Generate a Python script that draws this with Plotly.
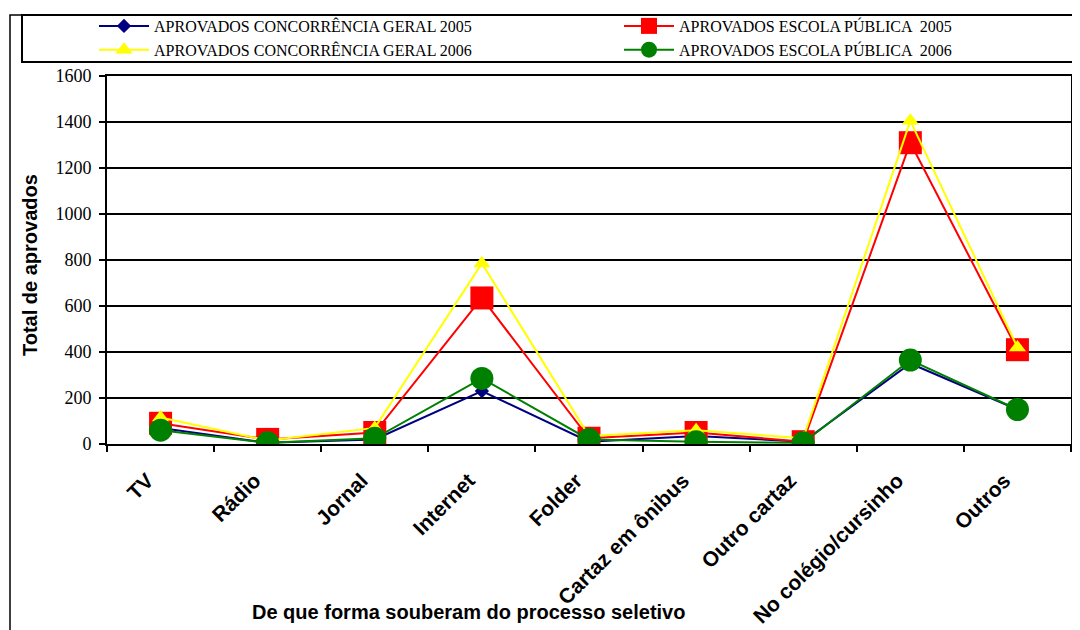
"""
Aprovados por forma de divulgação do processo seletivo (2005 x 2006)
"""

import plotly.graph_objects as go

categorias = ['TV', 'Rádio', 'Jornal', 'Internet', 'Folder', 'Cartaz em ônibus',
              'Outro cartaz', 'No colégio/cursinho', 'Outros']

geral_2005 = [70, 5, 20, 230, 10, 35, 10, 350, 150]
publica_2005 = [90, 20, 50, 635, 25, 50, 10, 1310, 410]
geral_2006 = [115, 15, 70, 785, 35, 60, 25, 1405, 420]
publica_2006 = [60, 5, 25, 285, 20, 10, 5, 365, 150]

y_ticks = [0, 200, 400, 600, 800, 1000, 1200, 1400, 1600]

# the page body has an 8px margin, so the figure is 8px smaller than the window
OFF = 8
W, H = 1080 - OFF, 630 - OFF
# plot area in window pixels: x 107..1071, y 76..444
L, T = 107 - OFF, 76 - OFF
R = W - (1071 - OFF)
B = H - (444 - OFF)
pw, ph = W - L - R, H - T - B


def px_x(x):
    # window pixel -> paper x
    return (x - OFF - L) / pw


def px_y(y):
    # window pixel -> paper y
    return (H - B - (y - OFF)) / ph


series = [
    ('APROVADOS CONCORRÊNCIA GERAL 2005', geral_2005, '#000080', 'diamond', 11),
    ('APROVADOS ESCOLA PÚBLICA  2005', publica_2005, '#ff0000', 'square', 23),
    ('APROVADOS CONCORRÊNCIA GERAL 2006', geral_2006, '#ffff00', 'triangle-up', 15),
    ('APROVADOS ESCOLA PÚBLICA  2006', publica_2006, '#008000', 'circle', 23),
]

fig = go.Figure()

for name, vals, color, symbol, size in series:
    fig.add_trace(go.Scatter(
        x=categorias,
        y=vals,
        name=name,
        mode='lines+markers',
        line=dict(color=color, width=2),
        marker=dict(symbol=symbol, size=size, color=color, line=dict(width=0)),
    ))

# outer chart frame and legend box
fig.add_shape(type='rect', xref='paper', yref='paper',
              x0=px_x(10), x1=px_x(1095), y0=px_y(645), y1=px_y(15),
              line=dict(color='black', width=1.5), layer='below')
fig.add_shape(type='rect', xref='paper', yref='paper',
              x0=px_x(22), x1=px_x(1095), y0=px_y(62), y1=px_y(15),
              line=dict(color='black', width=2), fillcolor='white', layer='below')

fig.add_annotation(
    text='Total de aprovados', textangle=-90,
    x=px_x(30), y=px_y(265), xref='paper', yref='paper', showarrow=False,
    xanchor='center', yanchor='middle',
    font=dict(family='Liberation Sans', size=20, color='black', weight='bold'),
)
fig.add_annotation(
    text='De que forma souberam do processo seletivo',
    x=px_x(468), y=px_y(612), xref='paper', yref='paper', showarrow=False,
    xanchor='center', yanchor='middle',
    font=dict(family='Liberation Sans', size=20, color='black', weight='bold'),
)

fig.update_layout(
    width=W,
    height=H,
    margin=dict(l=L, r=R, t=T, b=B, autoexpand=False),
    plot_bgcolor='white',
    paper_bgcolor='white',
    showlegend=True,
    legend=dict(
        orientation='h',
        x=px_x(94), y=px_y(9),
        xanchor='left', yanchor='top',
        entrywidth=460,
        entrywidthmode='pixels',
        tracegroupgap=0,
        itemwidth=50,
        bgcolor='rgba(0,0,0,0)',
        font=dict(family='Liberation Serif', size=16, color='black'),
    ),
    xaxis=dict(
        type='category',
        range=[-0.5, len(categorias) - 0.5],
        tickson='boundaries',
        ticks='outside',
        ticklen=6,
        tickwidth=1.5,
        tickcolor='black',
        tickangle=-45,
        ticklabelstandoff=14,
        ticklabelshift=-13,
        showline=True,
        linecolor='black',
        linewidth=2,
        mirror=True,
        showgrid=False,
        tickfont=dict(family='Liberation Sans', size=21, color='black', weight='bold'),
    ),
    yaxis=dict(
        range=[0, 1600],
        tickvals=y_ticks,
        ticks='outside',
        ticklen=6,
        tickwidth=1.5,
        tickcolor='black',
        ticklabelstandoff=4,
        showline=True,
        linecolor='black',
        linewidth=2,
        mirror=True,
        showgrid=True,
        gridcolor='black',
        gridwidth=1.5,
        zeroline=False,
        tickfont=dict(family='Liberation Serif', size=18, color='black'),
    ),
)

fig.write_html("out.html")
